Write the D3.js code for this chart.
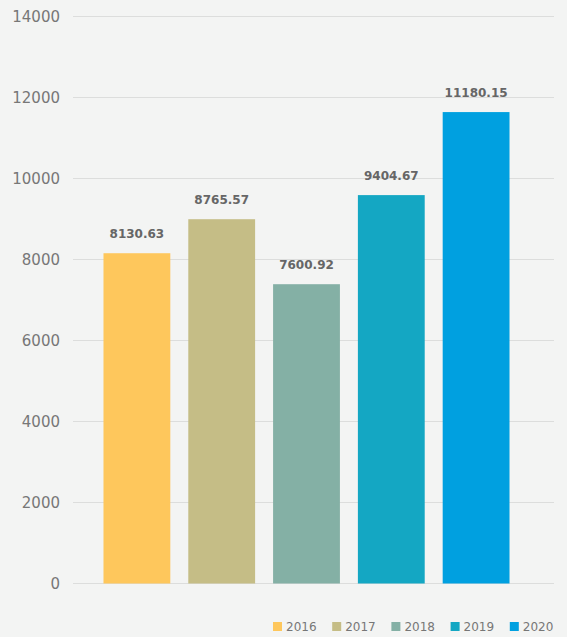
<!DOCTYPE html>
<html>
<head>
<meta charset="utf-8">
<script src="https://cdn.jsdelivr.net/npm/d3@7"></script>
<style>
  html, body { margin: 0; padding: 0; background: #f3f4f3; }
  svg { display: block; font-family: "DejaVu Sans", sans-serif; }
</style>
</head>
<body>
<svg id="chart"></svg>
<script>
const years = ["2016", "2017", "2018", "2019", "2020"];
// bar heights as drawn in the picture
const barValues = [8155, 8995, 7390, 9590, 11640];
// value labels as printed above the bars
const barLabels = ["8130.63", "8765.57", "7600.92", "9404.67", "11180.15"];
const yTicks = [0, 2000, 4000, 6000, 8000, 10000, 12000, 14000];
const colors = ["#fec75c", "#c5bd86", "#84b0a5", "#14a7c3", "#00a0e0"];

const width = 567;
const height = 637;

const svg = d3.select("#chart")
    .attr("width", width)
    .attr("height", height);

const y = d3.scaleLinear()
    .domain([0, 14000])
    .range([583.5, 16.5]);

const x = d3.scaleBand()
    .domain(years)
    .range([94.5, 518.5])
    .paddingInner(0.212)
    .paddingOuter(0.106);

// grid lines
svg.append("g")
    .selectAll("line")
    .data(yTicks)
    .join("line")
    .attr("x1", 73)
    .attr("x2", 554)
    .attr("y1", d => y(d))
    .attr("y2", d => y(d))
    .attr("stroke", "#dcdddc")
    .attr("stroke-width", 1.2);

// y tick labels
svg.append("g")
    .selectAll("text")
    .data(yTicks)
    .join("text")
    .attr("x", 60)
    .attr("y", d => y(d))
    .attr("dy", "0.36em")
    .attr("text-anchor", "end")
    .attr("font-size", 15)
    .attr("fill", "#777")
    .text(d => d);

// bars
svg.append("g")
    .selectAll("rect")
    .data(years)
    .join("rect")
    .attr("x", d => x(d))
    .attr("width", x.bandwidth())
    .attr("y", (d, i) => y(barValues[i]))
    .attr("height", (d, i) => y(0) - y(barValues[i]))
    .attr("fill", (d, i) => colors[i]);

// value labels
svg.append("g")
    .selectAll("text")
    .data(years)
    .join("text")
    .attr("x", d => x(d) + x.bandwidth() / 2)
    .attr("y", (d, i) => y(barValues[i]) - 15)
    .attr("text-anchor", "middle")
    .attr("font-size", 12)
    .attr("font-weight", "bold")
    .attr("fill", "#666")
    .text((d, i) => barLabels[i]);

// legend
const legend = svg.append("g")
    .selectAll("g")
    .data(years)
    .join("g")
    .attr("transform", (d, i) => `translate(${273 + i * 59.2},622)`);

legend.append("rect")
    .attr("width", 9)
    .attr("height", 9)
    .attr("fill", (d, i) => colors[i]);

legend.append("text")
    .attr("x", 13)
    .attr("y", 5)
    .attr("dy", "0.36em")
    .attr("font-size", 12)
    .attr("fill", "#777")
    .text(d => d);
</script>
</body>
</html>
